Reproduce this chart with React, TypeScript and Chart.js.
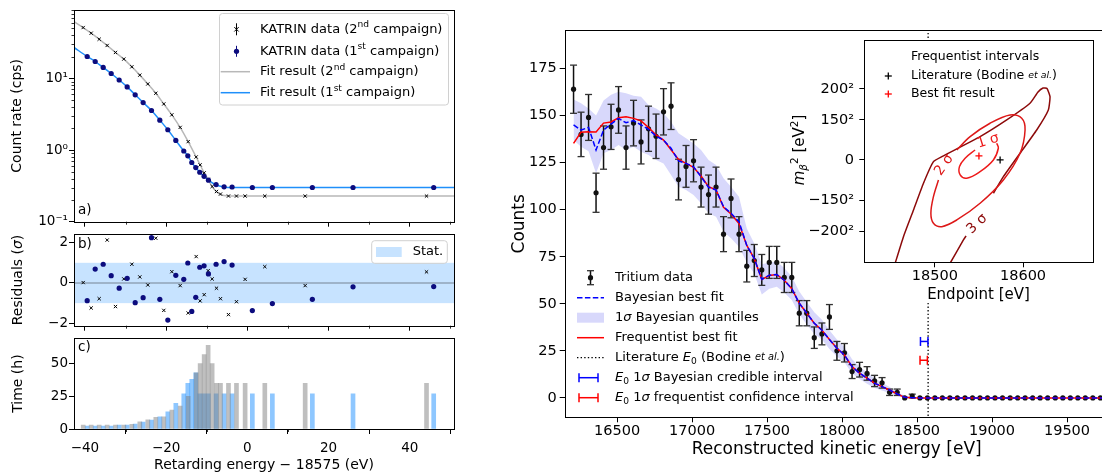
import React, { useEffect, useRef } from 'react';
import { Chart, registerables } from 'chart.js';

Chart.register(...registerables);

const FF = '"DejaVu Sans", Arial, sans-serif';
const NAVY = '#0c0c7e';
const FIT1 = '#1f8ffa';
const FIT2 = '#b8b8b8';
const STAT = 'rgba(30,144,255,0.25)';
const BAR1 = 'rgba(30,144,255,0.5)';
const BAR2 = 'rgba(128,128,128,0.5)';
const LAV = 'rgba(60,60,235,0.2)';
const C1 = '#ee1b1b';
const C2 = '#dd1818';
const C3 = '#8c0a0a';

// ================= LEFT PANEL DATA =================
const xMinLeft = -42.7;
const xMaxLeft = 50.9;
const xTicksLeft = [-40, -20, 0, 20, 40];
const xMinorLeft = [-30, -10, 10, 30, 50];
const logTicks = [0.1, 1, 10];
const logTickLabels = ['10\u207B\u00B9', '10\u2070', '10\u00B9'];
const logMinor = [0.2, 0.3, 0.4, 0.5, 0.6, 0.7, 0.8, 0.9, 2, 3, 4, 5, 6, 7, 8, 9, 20, 30, 40, 50, 60, 70, 80, 90];
const residTicks = [-2, 0, 2];
const statBand = [-1, 1];
const timeTicks = [0, 25, 50];

const camp1E = [-39.45, -37.48, -35.51, -33.54, -31.57, -29.6, -27.63, -25.67, -23.61, -21.56, -19.59, -17.62, -15.66, -14.67, -13.69, -12.71, -11.72, -10.66, -9.59, -7.7, -5.73, -3.76, 1.23, 6.16, 16.01, 26.03, 45.9];
const camp1Rate = [20.2, 17.2, 14.2, 11.7, 9.5, 7.6, 5.9, 4.6, 3.56, 2.61, 1.92, 1.36, 0.97, 0.83, 0.67, 0.57, 0.49, 0.43, 0.38, 0.33, 0.307, 0.305, 0.3, 0.3, 0.3, 0.3, 0.3];
const camp1Resid = [-0.88, 0.69, 0.93, 0.36, -0.26, 0.23, -0.98, -0.73, 2.25, -0.81, -1.84, 0.38, 0.18, 0.99, -1.41, -0.71, 0.78, 0.85, 0.45, 0.93, 1.06, 0.89, -1.37, -1.02, -0.81, -0.19, -0.18];
const camp1Time = [2.3, 2.3, 2.3, 2.3, 3, 3, 3.8, 5.3, 6.8, 9.4, 13.2, 19.6, 27, 35, 38, 43, 27, 27, 27, 27, 27, 27, 27, 27, 27, 27, 27];

const camp2E = [-40.44, -38.47, -36.5, -34.53, -32.48, -30.43, -28.45, -26.49, -24.52, -22.55, -20.58, -18.6, -16.55, -14.58, -12.61, -11.63, -10.64, -9.66, -8.67, -7.6, -6.62, -4.65, -2.68, -0.55, 4.3, 14.24, 44.13];
const camp2Rate = [51.2, 42.7, 35.2, 28.8, 23.0, 18.6, 14.5, 11.1, 8.36, 6.2, 4.4, 3.1, 2.07, 1.31, 0.8, 0.62, 0.48, 0.39, 0.31, 0.264, 0.243, 0.228, 0.228, 0.228, 0.228, 0.228, 0.228];
const camp2Resid = [0.02, -1.24, -0.78, 2.13, -1.17, 0.2, 0.93, 0.3, -0.1, 2.22, -1.36, 0.56, -0.13, -1.49, 1.31, -0.89, -0.58, 0.61, 0.2, -0.26, -0.78, -1.57, -0.93, 0.18, 0.81, -0.13, 0.55];
const camp2Time = [3, 3, 3, 3, 3, 3, 3.5, 5.5, 7, 9, 9.4, 14.5, 17.6, 25, 43, 50, 57, 64, 50, 35, 35, 35, 35, 35, 35, 35, 35];

const fit1E = [-42.7, -39.45, -37.48, -35.51, -33.54, -31.57, -29.6, -27.63, -25.67, -23.61, -21.56, -19.59, -17.62, -15.66, -14.67, -13.69, -12.71, -11.72, -10.66, -9.59, -7.7, -5.73, -3.76, 1.23, 6.16, 16.01, 26.03, 45.9, 50.9];
const fit1Rate = [27, 20.2, 17.2, 14.2, 11.7, 9.5, 7.6, 5.9, 4.6, 3.56, 2.61, 1.92, 1.36, 0.97, 0.83, 0.67, 0.57, 0.49, 0.43, 0.38, 0.325, 0.305, 0.3, 0.3, 0.3, 0.3, 0.3, 0.3, 0.3];
const fit2E = [-42.7, -40.44, -38.47, -36.5, -34.53, -32.48, -30.43, -28.45, -26.49, -24.52, -22.55, -20.58, -18.6, -16.55, -14.58, -12.61, -11.63, -10.64, -9.66, -8.67, -7.6, -6.62, -4.65, -2.68, -0.55, 4.3, 14.24, 44.13, 50.9];
const fit2Rate = [62, 51.2, 42.7, 35.2, 28.8, 23.0, 18.6, 14.5, 11.1, 8.36, 6.2, 4.4, 3.1, 2.07, 1.31, 0.8, 0.62, 0.48, 0.39, 0.31, 0.262, 0.24, 0.229, 0.228, 0.228, 0.228, 0.228, 0.228, 0.228];

// ================= RIGHT PANEL DATA =================
const mainXMin = 16151;
const mainXMax = 19778;
const mainYMin = -10.3;
const mainYMax = 195.3;
const mainXTicks = [16500, 17000, 17500, 18000, 18500, 19000, 19500];
const mainYTicks = [0, 25, 50, 75, 100, 125, 150, 175];

const energy = [16210, 16260, 16310, 16360, 16410, 16460, 16510, 16560, 16610, 16660, 16710, 16760, 16810, 16860, 16910, 16960, 17010, 17060, 17110, 17160, 17210, 17260, 17313, 17365, 17415, 17465, 17515, 17565, 17615, 17665, 17715, 17765, 17815, 17866, 17916, 17966, 18016, 18067, 18117, 18167, 18217, 18267, 18317, 18368, 18418, 18468, 18519, 18569, 18619, 18669, 18719, 18769, 18820, 18870, 18920, 18970, 19020, 19070, 19121, 19171, 19221, 19271, 19321, 19371, 19422, 19472, 19522, 19572, 19622, 19672, 19723, 19773];
const counts = [164, 140, 149, 109, 133, 144, 153, 133, 146, 136, 143, 139, 152, 155, 116, 123, 126, 112, 108, 112, 87, 106, 87, 70, 73, 68, 72, 72, 64, 64, 45, 45, 32, 34, 43, 25, 24, 14, 15, 13, 9, 8, 3, 3, 0, 1, 0, 0, 0, 0, 0, 0, 0, 0, 0, 0, 0, 0, 0, 0, 0, 0, 0, 0, 0, 0, 0, 0, 0, 0, 0, 0];
const countErr = [12.8, 11.8, 12.2, 10.4, 11.5, 12, 12.4, 11.5, 12.1, 11.7, 12, 11.8, 12.3, 12.4, 10.8, 11.1, 11.2, 10.6, 10.4, 10.6, 9.3, 10.3, 9.3, 8.4, 8.5, 8.2, 8.5, 8.5, 8, 8, 6.7, 6.7, 5.7, 5.8, 6.6, 5, 4.9, 3.7, 3.9, 3.6, 3, 2.8, 1.7, 1.7, 0, 1, 0, 0, 0, 0, 0, 0, 0, 0, 0, 0, 0, 0, 0, 0, 0, 0, 0, 0, 0, 0, 0, 0, 0, 0, 0, 0];
const freqFit = [135.2, 141.2, 141.4, 141.3, 146.0, 146.6, 148.8, 149.4, 148.5, 147.2, 143.7, 139.7, 137.0, 131.8, 126.7, 124.6, 122.5, 117.9, 112.2, 110.5, 101.3, 97.7, 92.6, 81, 74, 63, 65, 65.5, 62.5, 58, 50.3, 45, 39.7, 36, 31, 26.4, 22.8, 16.6, 13.1, 10.5, 7.8, 6, 4.2, 2.1, 0.3, 0.1, 0, 0, 0, 0, 0, 0, 0, 0, 0, 0, 0, 0, 0, 0, 0, 0, 0, 0, 0, 0, 0, 0, 0, 0, 0, 0];
const bayesFit = [145, 142.3, 143.7, 131.7, 142.3, 145.5, 148.5, 146.2, 147.3, 145, 142.7, 139.1, 137, 132.6, 125.9, 124.6, 122.8, 117.5, 111.9, 110.5, 101.6, 98.1, 93.6, 81, 74, 63, 65.2, 65.5, 62.5, 58, 50.3, 45, 39.7, 36, 31, 26.4, 22.8, 16.6, 13.1, 10.5, 7.8, 6, 4.2, 2.1, 0.3, 0.1, 0, 0, 0, 0, 0, 0, 0, 0, 0, 0, 0, 0, 0, 0, 0, 0, 0, 0, 0, 0, 0, 0, 0, 0, 0, 0];
const bandHi = [158.6, 156.5, 153.8, 150, 158, 161, 162.7, 161.8, 160.5, 160, 155.6, 153.8, 151.2, 146.7, 140.6, 137.9, 135.2, 131.7, 126.4, 123.7, 116.7, 112.2, 106.9, 90, 82, 71, 72, 72.5, 69, 64.5, 56.5, 51, 45.5, 41.5, 36, 31, 27, 20.5, 16.5, 13.5, 10.5, 8, 5.8, 3.3, 1, 0.3, 0, 0, 0, 0, 0, 0, 0, 0, 0, 0, 0, 0, 0, 0, 0, 0, 0, 0, 0, 0, 0, 0, 0, 0, 0, 0];
const bandLo = [137, 133.5, 131, 119.3, 130, 131.7, 134.4, 131.7, 133.5, 130.8, 129, 126.4, 124.6, 118.4, 112.2, 110.5, 107.8, 103.4, 98.1, 96.3, 88.3, 84.8, 80.3, 72, 66, 55, 58, 59, 56, 52, 44.5, 39, 34, 31, 26, 22, 19, 13, 10, 7.5, 5.3, 4, 2.6, 1, 0, 0, 0, 0, 0, 0, 0, 0, 0, 0, 0, 0, 0, 0, 0, 0, 0, 0, 0, 0, 0, 0, 0, 0, 0, 0, 0, 0];
const litE0 = 18574;
const bayesInterval = [18523, 18573];
const bayesIntervalY = 30;
const freqInterval = [18520, 18569];
const freqIntervalY = 20;

// inset
const insetXMin = 18420;
const insetXMax = 18679;
const insetYMin = -57500;
const insetYMax = 67400;
const insetXTicks = [18500, 18600];
const insetYTicks = [-40000, -22500, 0, 22500, 40000];
const insetYLabels = ['\u2212200\u00B2', '\u2212150\u00B2', '0', '150\u00B2', '200\u00B2'];
const litPoint = [18574, 0];
const bestPoint = [18550, 2270];
const sig1X = [18570.2, 18572, 18566.4, 18551.3, 18536.2, 18528.7, 18527.9, 18534.3, 18545.6];
const sig1Y = [9380, 6570, 0, -6570, -10280, -8430, -3760, 955, 5620];
const sig2X = [18504.1, 18498.4, 18495.5, 18498.4, 18507.9, 18524.9, 18551.3, 18577.7, 18596.6, 18602.3, 18598.5, 18585.3, 18562.6, 18540, 18524.9];
const sig2Y = [-11240, -20620, -29940, -35560, -37470, -33710, -24330, -11240, 3760, 16850, 23430, 25280, 20620, 13090, 5620];
const sig3aX = [18452.8, 18455, 18464.4, 18475.8, 18487.1, 18498.4, 18507.9, 18551.3, 18581.5, 18607.9, 18617, 18622.7, 18627.2, 18630.6, 18628.7, 18615.5, 18596.6, 18577.7, 18566.4];
const sig3aY = [-61800, -58030, -43090, -28090, -13090, -955, 1850, 13090, 22470, 31850, 38200, 40450, 40170, 35560, 28090, 16850, 3760, -9380, -18710];
const sig3bX = [18535.4, 18532.4, 18517.3, 18512.8];
const sig3bY = [-42700, -44940, -58030, -61800];
const sigLabelText = ['1', '2', '3'];
const sigLabelX = [18560.4, 18510.5, 18547.9];
const sigLabelY = [10670, -2810, -35960];

// ================= HELPERS =================
type Seg = { t: string; i?: boolean; sub?: boolean; sup?: boolean; s?: number };

function fontOf(g: Seg, size: number) {
  const sz = g.sub || g.sup ? size * 0.7 : size * (g.s ?? 1);
  return `${g.i ? 'italic ' : ''}${sz}px ${FF}`;
}

function rich(ctx: any, segs: Seg[], x: number, y: number, size: number, align = 'left', rot = 0, color = '#000') {
  ctx.save();
  ctx.translate(x, y);
  if (rot) ctx.rotate(rot);
  let w = 0;
  for (const g of segs) {
    ctx.font = fontOf(g, size);
    w += ctx.measureText(g.t).width;
  }
  let cx = align === 'left' ? 0 : align === 'center' ? -w / 2 : -w;
  ctx.fillStyle = color;
  ctx.textBaseline = 'middle';
  ctx.textAlign = 'left';
  for (const g of segs) {
    ctx.font = fontOf(g, size);
    const dy = g.sub ? size * 0.28 : g.sup ? -size * 0.33 : 0;
    ctx.fillText(g.t, cx, dy);
    cx += ctx.measureText(g.t).width;
  }
  ctx.restore();
}

function ln(ctx: any, x1: number, y1: number, x2: number, y2: number, color: string, w: number, dash: number[] = []) {
  ctx.save();
  ctx.beginPath();
  ctx.strokeStyle = color;
  ctx.lineWidth = w;
  ctx.setLineDash(dash);
  ctx.moveTo(x1, y1);
  ctx.lineTo(x2, y2);
  ctx.stroke();
  ctx.restore();
}

function frame(chart: any) {
  const { ctx, chartArea: a } = chart;
  ctx.save();
  ctx.strokeStyle = '#000';
  ctx.lineWidth = 1;
  const l = Math.round(a.left) + 0.5;
  const t = Math.round(a.top) + 0.5;
  const r = Math.round(a.right) + 0.5;
  const b = Math.round(a.bottom) + 0.5;
  ctx.strokeRect(l, t, r - l, b - t);
  ctx.restore();
}

function minorX(chart: any, vals: number[], len = 3) {
  const s = chart.scales.x;
  const b = chart.chartArea.bottom;
  for (const v of vals) {
    const p = Math.round(s.getPixelForValue(v)) + 0.5;
    if (p < chart.chartArea.left || p > chart.chartArea.right) continue;
    ln(chart.ctx, p, b, p, b + len, '#000', 0.8);
  }
}

function minorY(chart: any, vals: number[], len = 3) {
  const s = chart.scales.y;
  const l = chart.chartArea.left;
  for (const v of vals) {
    const p = Math.round(s.getPixelForValue(v)) + 0.5;
    if (p < chart.chartArea.top || p > chart.chartArea.bottom) continue;
    ln(chart.ctx, l, p, l - len, p, '#000', 0.8);
  }
}

const minus = (v: number) => (v < 0 ? '\u2212' + Math.abs(v) : String(v));

function hAxis(min: number, max: number, ticks: number[], height: number, o: any = {}) {
  return {
    type: 'linear',
    position: 'bottom',
    min,
    max,
    offset: false,
    afterBuildTicks: (s: any) => {
      s.ticks = ticks.map((v) => ({ value: v }));
    },
    afterFit: (s: any) => {
      s.height = height;
      s.paddingLeft = 0;
      s.paddingRight = 0;
      s.paddingTop = 0;
      s.paddingBottom = 0;
    },
    ticks: {
      display: !!o.labels,
      autoSkip: false,
      maxRotation: 0,
      minRotation: 0,
      padding: o.pad ?? 0,
      color: '#000',
      font: { family: FF, size: o.size ?? 13.5 },
      callback: (v: any) => (o.fmt ? o.fmt(Number(v)) : minus(Number(v))),
    },
    grid: { display: true, drawOnChartArea: false, drawTicks: true, tickLength: 5, tickColor: '#000', tickWidth: 1 },
    border: { display: false },
  };
}

function vAxis(type: string, min: number, max: number, ticks: number[], width: number, o: any = {}) {
  return {
    type,
    position: 'left',
    min,
    max,
    afterBuildTicks: (s: any) => {
      s.ticks = ticks.map((v) => ({ value: v }));
    },
    afterFit: (s: any) => {
      s.width = width;
      s.paddingLeft = 0;
      s.paddingRight = 0;
      s.paddingTop = 0;
      s.paddingBottom = 0;
    },
    ticks: {
      display: true,
      autoSkip: false,
      padding: o.pad ?? 2,
      color: '#000',
      font: { family: FF, size: o.size ?? 13.5 },
      callback: (v: any) => (o.fmt ? o.fmt(Number(v)) : minus(Number(v))),
    },
    grid: { display: true, drawOnChartArea: false, drawTicks: true, tickLength: 5, tickColor: '#000', tickWidth: 1 },
    border: { display: false },
  };
}

function common(pad: any, scales: any) {
  return {
    responsive: false,
    maintainAspectRatio: false,
    animation: false,
    devicePixelRatio: 1,
    events: [],
    layout: { padding: { left: 0, top: 0, right: 0, bottom: 0, ...pad } },
    plugins: { legend: { display: false }, tooltip: { enabled: false }, title: { display: false } },
    scales,
  };
}

const pts = (xs: number[], ys: number[]) => xs.map((x, i) => ({ x, y: ys[i] }));

function drawCross(ctx: any, x: number, y: number, r: number, color: string, w: number) {
  ln(ctx, x - r, y - r, x + r, y + r, color, w);
  ln(ctx, x - r, y + r, x + r, y - r, color, w);
}
function drawPlus(ctx: any, x: number, y: number, r: number, color: string, w: number) {
  ln(ctx, x - r, y, x + r, y, color, w);
  ln(ctx, x, y - r, x, y + r, color, w);
}
function dot(ctx: any, x: number, y: number, r: number, color: string) {
  ctx.save();
  ctx.beginPath();
  ctx.fillStyle = color;
  ctx.arc(x, y, r, 0, Math.PI * 2);
  ctx.fill();
  ctx.restore();
}
function roundBox(ctx: any, x: number, y: number, w: number, h: number, r: number) {
  ctx.save();
  ctx.beginPath();
  ctx.moveTo(x + r, y);
  ctx.arcTo(x + w, y, x + w, y + h, r);
  ctx.arcTo(x + w, y + h, x, y + h, r);
  ctx.arcTo(x, y + h, x, y, r);
  ctx.arcTo(x, y, x + w, y, r);
  ctx.closePath();
  ctx.fillStyle = 'rgba(255,255,255,0.8)';
  ctx.fill();
  ctx.strokeStyle = '#d0d0d0';
  ctx.lineWidth = 1;
  ctx.stroke();
  ctx.restore();
}
function hBar(ctx: any, x1: number, x2: number, y: number, color: string) {
  ln(ctx, x1, y, x2, y, color, 1.5);
  ln(ctx, x1, y - 4.5, x1, y + 4.5, color, 1.5);
  ln(ctx, x2, y - 4.5, x2, y + 4.5, color, 1.5);
}

// ================= CHART BUILDERS =================
function buildA(ox: number, oy: number) {
  return {
    type: 'scatter',
    data: {
      datasets: [
        { data: pts(camp1E, camp1Rate), pointStyle: 'circle', pointRadius: 2.6, pointBackgroundColor: NAVY, pointBorderColor: NAVY, pointBorderWidth: 0, showLine: false },
        { data: pts(camp2E, camp2Rate), pointStyle: 'crossRot', pointRadius: 2.3, pointBorderColor: '#000', pointBackgroundColor: '#000', pointBorderWidth: 1, showLine: false },
        { data: pts(fit1E, fit1Rate), showLine: true, pointRadius: 0, borderColor: FIT1, borderWidth: 1.5, cubicInterpolationMode: 'monotone' },
        { data: pts(fit2E, fit2Rate), showLine: true, pointRadius: 0, borderColor: FIT2, borderWidth: 1.5, cubicInterpolationMode: 'monotone' },
      ],
    },
    options: common({ top: 10, right: 16 }, {
      x: hAxis(xMinLeft, xMaxLeft, xTicksLeft, 10.3),
      y: vAxis('logarithmic', 0.1, 90, logTicks, 74, {
        pad: 1,
        fmt: (v: number) => {
          let k = 0;
          logTicks.forEach((t, i) => {
            if (Math.abs(Math.log10(t) - Math.log10(v)) < 0.01) k = i;
          });
          return logTickLabels[k];
        },
      }),
    }),
    plugins: [
      {
        id: 'decoA',
        afterDraw(chart: any) {
          const ctx = chart.ctx;
          frame(chart);
          minorX(chart, xMinorLeft);
          minorY(chart, logMinor, 2.5);
          rich(ctx, [{ t: 'Count rate (cps)' }], 17.5 - ox, 115.8 - oy, 14, 'center', -Math.PI / 2);
          rich(ctx, [{ t: 'a)' }], 78 - ox, 210 - oy, 13.5);
          // legend
          roundBox(ctx, 219.5 - ox, 13.5 - oy, 229, 91.5, 3);
          const hx = 236.5 - ox;
          const rows = [29.3, 51.3, 71.7, 92.7].map((v) => v - oy);
          ln(ctx, hx, rows[0] - 6, hx, rows[0] + 6, '#000', 1);
          drawCross(ctx, hx, rows[0], 2.2, '#000', 1);
          ln(ctx, hx, rows[1] - 5.5, hx, rows[1] + 5.5, NAVY, 1);
          dot(ctx, hx, rows[1], 2.6, NAVY);
          ln(ctx, 220.7 - ox, rows[2], 250 - ox, rows[2], FIT2, 1.5);
          ln(ctx, 220.7 - ox, rows[3], 250 - ox, rows[3], FIT1, 1.5);
          const tx = 260 - ox;
          rich(ctx, [{ t: 'KATRIN data (2' }, { t: 'nd', sup: true }, { t: ' campaign)' }], tx, rows[0], 13);
          rich(ctx, [{ t: 'KATRIN data (1' }, { t: 'st', sup: true }, { t: ' campaign)' }], tx, rows[1], 13);
          rich(ctx, [{ t: 'Fit result (2' }, { t: 'nd', sup: true }, { t: ' campaign)' }], tx, rows[2], 13);
          rich(ctx, [{ t: 'Fit result (1' }, { t: 'st', sup: true }, { t: ' campaign)' }], tx, rows[3], 13);
        },
      },
    ],
  };
}

function buildB(ox: number, oy: number) {
  return {
    type: 'scatter',
    data: {
      datasets: [
        { data: pts(camp1E, camp1Resid), pointStyle: 'circle', pointRadius: 2.6, pointBackgroundColor: NAVY, pointBorderColor: NAVY, pointBorderWidth: 0 },
        { data: pts(camp2E, camp2Resid), pointStyle: 'crossRot', pointRadius: 2.3, pointBorderColor: '#000', pointBackgroundColor: '#000', pointBorderWidth: 1 },
      ],
    },
    options: common({ top: 8, right: 16 }, {
      x: hAxis(xMinLeft, xMaxLeft, xTicksLeft, 6.3),
      y: vAxis('linear', -2.12, 2.43, residTicks, 74, { pad: 1 }),
    }),
    plugins: [
      {
        id: 'decoB',
        beforeDatasetsDraw(chart: any) {
          const { ctx, chartArea: a, scales } = chart;
          const y1 = scales.y.getPixelForValue(statBand[1]);
          const y0 = scales.y.getPixelForValue(statBand[0]);
          ctx.save();
          ctx.fillStyle = STAT;
          ctx.fillRect(a.left, y1, a.right - a.left, y0 - y1);
          ctx.restore();
          const z = scales.y.getPixelForValue(0);
          ln(ctx, a.left, z, a.right, z, 'rgba(100,110,125,0.55)', 1.5);
        },
        afterDraw(chart: any) {
          const ctx = chart.ctx;
          frame(chart);
          minorX(chart, xMinorLeft);
          rich(ctx, [{ t: 'Residuals (' }, { t: '\u03C3', i: true }, { t: ')' }], 18 - ox, 280 - oy, 14, 'center', -Math.PI / 2);
          rich(ctx, [{ t: 'b)' }], 78 - ox, 244 - oy, 13.5);
          roundBox(ctx, 371.7 - ox, 240.7 - oy, 75.6, 22.6, 3);
          ctx.save();
          ctx.fillStyle = STAT;
          ctx.fillRect(376 - ox, 247 - oy, 25.7, 10);
          ctx.restore();
          rich(ctx, [{ t: 'Stat.' }], 412.7 - ox, 252 - oy, 13);
        },
      },
    ],
  };
}

function buildC(ox: number, oy: number) {
  return {
    type: 'bar',
    data: {
      datasets: [
        { data: pts(camp2E, camp2Time), backgroundColor: BAR2, borderWidth: 0, barThickness: 4, grouped: false },
        { data: pts(camp1E, camp1Time), backgroundColor: BAR1, borderWidth: 0, barThickness: 4, grouped: false },
      ],
    },
    options: common({ top: 8.3, right: 16 }, {
      x: hAxis(xMinLeft, xMaxLeft, xTicksLeft, 43, { labels: true, pad: 6.2 }),
      y: vAxis('linear', 0, 69.4, timeTicks, 74, { pad: 1 }),
    }),
    plugins: [
      {
        id: 'decoC',
        afterDraw(chart: any) {
          const ctx = chart.ctx;
          frame(chart);
          minorX(chart, xMinorLeft);
          rich(ctx, [{ t: 'Time (h)' }], 18 - ox, 383.6 - oy, 14, 'center', -Math.PI / 2);
          rich(ctx, [{ t: 'c)' }], 78 - ox, 347 - oy, 13.5);
          rich(ctx, [{ t: 'Retarding energy \u2212 18575 (eV)' }], 264 - ox, 465 - oy, 14, 'center');
        },
      },
    ],
  };
}

const DATA_IDX = 2;

function buildMain(ox: number, oy: number) {
  return {
    type: 'scatter',
    data: {
      datasets: [
        { data: pts(energy, bayesFit), showLine: true, pointRadius: 0, borderColor: '#0000ff', borderWidth: 1.5, borderDash: [5.5, 2.4], tension: 0 },
        { data: pts(energy, freqFit), showLine: true, pointRadius: 0, borderColor: '#ff0000', borderWidth: 1.5, tension: 0 },
        { data: pts(energy, counts), showLine: false, pointStyle: 'circle', pointRadius: 2.6, pointBackgroundColor: '#111', pointBorderWidth: 0 },
        { data: pts(energy, bandHi), showLine: true, pointRadius: 0, borderWidth: 0, borderColor: 'rgba(0,0,0,0)', backgroundColor: LAV, fill: '+1' },
        { data: pts(energy, bandLo), showLine: true, pointRadius: 0, borderWidth: 0, borderColor: 'rgba(0,0,0,0)', fill: false },
        { data: [{ x: litE0, y: mainYMin - 5 }, { x: litE0, y: mainYMax + 5 }], showLine: true, pointRadius: 0, borderColor: '#000', borderWidth: 1.3, borderDash: [1.4, 2.2] },
      ],
    },
    options: common({ top: 30.3, right: 6.3 }, {
      x: hAxis(mainXMin, mainXMax, mainXTicks, 54.7, { labels: true, pad: 0, size: 14.5 }),
      y: vAxis('linear', mainYMin, mainYMax, mainYTicks, 74.7, { pad: 3, size: 14.5 }),
    }),
    plugins: [
      {
        id: 'decoMain',
        beforeDatasetDraw(chart: any, args: any) {
          if (args.index !== DATA_IDX) return;
          const { ctx, scales } = chart;
          for (let i = 0; i < energy.length; i++) {
            if (!countErr[i]) continue;
            const x = scales.x.getPixelForValue(energy[i]);
            const yt = scales.y.getPixelForValue(counts[i] + countErr[i]);
            const yb = scales.y.getPixelForValue(counts[i] - countErr[i]);
            ln(ctx, x, yt, x, yb, '#111', 1.5);
            ln(ctx, x - 3.5, yt, x + 3.5, yt, '#333', 1.3);
            ln(ctx, x - 3.5, yb, x + 3.5, yb, '#333', 1.3);
          }
        },
        afterDatasetsDraw(chart: any) {
          const { ctx, scales } = chart;
          const sx = scales.x, sy = scales.y;
          hBar(ctx, sx.getPixelForValue(bayesInterval[0]), sx.getPixelForValue(bayesInterval[1]), sy.getPixelForValue(bayesIntervalY), '#0000ff');
          hBar(ctx, sx.getPixelForValue(freqInterval[0]), sx.getPixelForValue(freqInterval[1]), sy.getPixelForValue(freqIntervalY), '#ff0000');
        },
        afterDraw(chart: any) {
          const ctx = chart.ctx;
          frame(chart);
          rich(ctx, [{ t: 'Counts' }], 520 - ox, 223.8 - oy, 17, 'center', -Math.PI / 2);
          rich(ctx, [{ t: 'Reconstructed kinetic energy [eV]' }], 836.7 - ox, 450 - oy, 17, 'center');
          // legend
          const rows = [277.7, 297.7, 317.7, 337.7, 357.7, 377.7, 397.7].map((v) => v - oy);
          const hl = 577 - ox, hr = 604 - ox, hc = 590.5 - ox;
          ln(ctx, hc, rows[0] - 7, hc, rows[0] + 7, '#111', 1.5);
          ln(ctx, hc - 3.5, rows[0] - 7, hc + 3.5, rows[0] - 7, '#333', 1.3);
          ln(ctx, hc - 3.5, rows[0] + 7, hc + 3.5, rows[0] + 7, '#333', 1.3);
          dot(ctx, hc, rows[0], 2.6, '#111');
          ln(ctx, hl, rows[1], hr, rows[1], '#0000ff', 1.5, [5.5, 2.4]);
          ctx.save();
          ctx.fillStyle = LAV;
          ctx.fillRect(hl, rows[2] - 5, hr - hl, 10);
          ctx.restore();
          ln(ctx, hl, rows[3], hr, rows[3], '#ff0000', 1.5);
          ln(ctx, hl, rows[4], hr, rows[4], '#000', 1.3, [1.4, 2.2]);
          hBar(ctx, 579 - ox, 598 - ox, rows[5], '#0000ff');
          hBar(ctx, 579 - ox, 598 - ox, rows[6], '#ff0000');
          const tx = 615 - ox;
          const fs = 13;
          rich(ctx, [{ t: 'Tritium data' }], tx, rows[0], fs);
          rich(ctx, [{ t: 'Bayesian best fit' }], tx, rows[1], fs);
          rich(ctx, [{ t: '1' }, { t: '\u03C3', i: true }, { t: ' Bayesian quantiles' }], tx, rows[2], fs);
          rich(ctx, [{ t: 'Frequentist best fit' }], tx, rows[3], fs);
          rich(ctx, [{ t: 'Literature ' }, { t: 'E', i: true }, { t: '0', sub: true }, { t: ' (Bodine ' }, { t: 'et al.', i: true, s: 0.75 }, { t: ')' }], tx, rows[4], fs);
          rich(ctx, [{ t: 'E', i: true }, { t: '0', sub: true }, { t: ' 1' }, { t: '\u03C3', i: true }, { t: ' Bayesian credible interval' }], tx, rows[5], fs);
          rich(ctx, [{ t: 'E', i: true }, { t: '0', sub: true }, { t: ' 1' }, { t: '\u03C3', i: true }, { t: ' frequentist confidence interval' }], tx, rows[6], fs);
        },
      },
    ],
  };
}

function buildInset(ox: number, oy: number) {
  return {
    type: 'scatter',
    data: {
      datasets: [
        { data: [{ x: litPoint[0], y: litPoint[1] }], pointStyle: 'cross', pointRadius: 3.5, pointBorderColor: '#000', pointBorderWidth: 1.3 },
        { data: [{ x: bestPoint[0], y: bestPoint[1] }], pointStyle: 'cross', pointRadius: 3.5, pointBorderColor: '#ff0000', pointBorderWidth: 1.3 },
        { data: pts(sig1X, sig1Y), showLine: true, pointRadius: 0, borderColor: C1, borderWidth: 1.5, tension: 0.4 },
        { data: pts(sig2X, sig2Y), showLine: true, pointRadius: 0, borderColor: C2, borderWidth: 1.5, tension: 0.35 },
        { data: pts(sig3aX, sig3aY), showLine: true, pointRadius: 0, borderColor: C3, borderWidth: 1.5, tension: 0.15 },
        { data: pts(sig3bX, sig3bY), showLine: true, pointRadius: 0, borderColor: C3, borderWidth: 1.5, tension: 0.15 },
      ],
    },
    options: common({ top: 20, right: 7.3 }, {
      x: hAxis(insetXMin, insetXMax, insetXTicks, 57.7, { labels: true, pad: 0, size: 14.5, fmt: (v: number) => String(v) }),
      y: vAxis('linear', insetYMin, insetYMax, insetYTicks, 84.3, {
        pad: 5.3,
        size: 14.5,
        fmt: (v: number) => {
          const k = insetYTicks.indexOf(v);
          return k >= 0 ? insetYLabels[k] : '';
        },
      }),
    }),
    plugins: [
      {
        id: 'decoInset',
        beforeDraw(chart: any) {
          const { ctx, chartArea: a } = chart;
          ctx.save();
          ctx.fillStyle = '#fff';
          ctx.fillRect(a.left, a.top, a.right - a.left, 303 - oy - a.top);
          ctx.restore();
        },
        afterDraw(chart: any) {
          const { ctx, scales } = chart;
          frame(chart);
          const rots = [-0.3, -0.96, -0.75];
          const cols = [C1, C2, C3];
          for (let i = 0; i < 3; i++) {
            rich(ctx, [{ t: sigLabelText[i] + ' ' }, { t: '\u03C3' }], scales.x.getPixelForValue(sigLabelX[i]), scales.y.getPixelForValue(sigLabelY[i]), 14, 'center', rots[i], cols[i]);
          }
          rich(ctx, [{ t: 'Endpoint [eV]' }], 978.5 - ox, 295 - oy, 15, 'center');
          rich(ctx, [{ t: 'm', i: true }, { t: '\u03B2', i: true, sub: true }, { t: '2', sup: true }, { t: ' [eV' }, { t: '2', sup: true }, { t: ']' }], 800 - ox, 150 - oy, 15, 'center', -Math.PI / 2);
          rich(ctx, [{ t: 'Frequentist intervals' }], 911 - ox, 56.7 - oy, 12.5);
          drawPlus(ctx, 888.3 - ox, 76 - oy, 3.5, '#000', 1.3);
          rich(ctx, [{ t: 'Literature (Bodine ' }, { t: 'et al.', i: true, s: 0.75 }, { t: ')' }], 911 - ox, 76 - oy, 12.5);
          drawPlus(ctx, 888.3 - ox, 94 - oy, 3.5, '#ff0000', 1.3);
          rich(ctx, [{ t: 'Best fit result' }], 911 - ox, 94 - oy, 12.5);
        },
      },
    ],
  };
}

function ChartCanvas({ left, top, width, height, build }: any) {
  const ref = useRef<HTMLCanvasElement | null>(null);
  useEffect(() => {
    const chart = new Chart(ref.current as HTMLCanvasElement, build(left, top) as any);
    return () => chart.destroy();
  }, []);
  return <canvas ref={ref} width={width} height={height} style={{ position: 'absolute', left, top, width, height }} />;
}

export default function App() {
  return (
    <div style={{ position: 'fixed', left: 0, top: 0, width: 1102, height: 472, overflow: 'hidden', background: '#fff' }}>
      <ChartCanvas left={0} top={0} width={470} height={232} build={buildA} />
      <ChartCanvas left={0} top={226} width={470} height={106} build={buildB} />
      <ChartCanvas left={0} top={330} width={470} height={142} build={buildC} />
      <ChartCanvas left={490} top={0} width={625} height={472} build={buildMain} />
      <ChartCanvas left={780} top={20} width={320} height={300} build={buildInset} />
    </div>
  );
}
